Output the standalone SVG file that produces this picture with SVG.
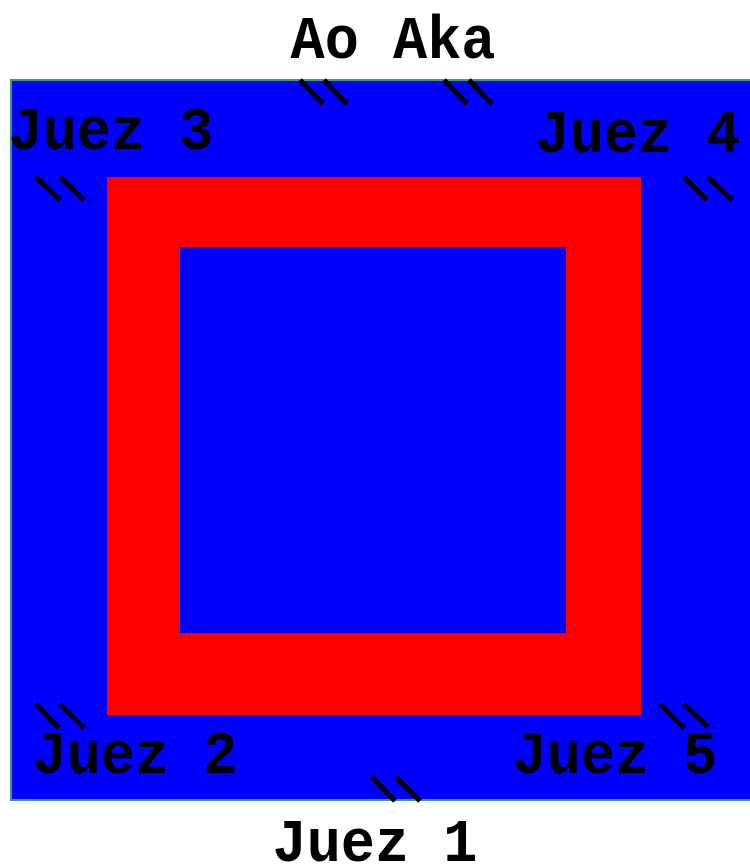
<svg xmlns="http://www.w3.org/2000/svg" width="750" height="867" viewBox="0 0 750 867">
<style>
.lbl{font-family:"Liberation Mono","DejaVu Sans Mono",monospace;font-weight:bold;font-size:62px;fill:#000;text-anchor:middle}
.tick{stroke:#000;stroke-width:5;stroke-linecap:butt}
</style>
<rect width="750" height="867" fill="#fff"/>
<g id="mat">
<rect x="11" y="80" width="760" height="720" fill="#0000ff" stroke="#3a9d6a" stroke-width="2"/>
<rect x="107" y="177" width="534" height="538" fill="#ff0000"/>
<rect x="180" y="247" width="386" height="386" fill="#0000ff"/>
</g>
<g id="connectors">
<line class="tick" x1="300" y1="80" x2="323" y2="104"/>
<line class="tick" x1="324" y1="80" x2="347" y2="104"/>
<line class="tick" x1="444" y1="80" x2="467" y2="104"/>
<line class="tick" x1="469" y1="80" x2="492" y2="104"/>
<line class="tick" x1="36" y1="177" x2="60" y2="200"/>
<line class="tick" x1="60" y1="177" x2="84" y2="200"/>
<line class="tick" x1="684" y1="177" x2="707" y2="200"/>
<line class="tick" x1="708" y1="177" x2="732" y2="200"/>
<line class="tick" x1="36" y1="704" x2="59" y2="728"/>
<line class="tick" x1="60" y1="704" x2="84" y2="728"/>
<line class="tick" x1="660" y1="704" x2="684" y2="728"/>
<line class="tick" x1="684" y1="704" x2="708" y2="727"/>
<line class="tick" x1="372" y1="777" x2="395" y2="801"/>
<line class="tick" x1="396" y1="777" x2="420" y2="801"/>
</g>
<g id="ao-aka"><text class="lbl" x="393" y="58" textLength="205" lengthAdjust="spacingAndGlyphs">Ao Aka</text></g>
<g id="juez3"><text class="lbl" x="111" y="149" textLength="205" lengthAdjust="spacingAndGlyphs">Juez 3</text></g>
<g id="juez4"><text class="lbl" x="638" y="152" textLength="205" lengthAdjust="spacingAndGlyphs">Juez 4</text></g>
<g id="juez2"><text class="lbl" x="135" y="773" textLength="205" lengthAdjust="spacingAndGlyphs">Juez 2</text></g>
<g id="juez5"><text class="lbl" x="615" y="773" textLength="205" lengthAdjust="spacingAndGlyphs">Juez 5</text></g>
<g id="juez1"><text class="lbl" x="375" y="861" textLength="205" lengthAdjust="spacingAndGlyphs">Juez 1</text></g>
</svg>
